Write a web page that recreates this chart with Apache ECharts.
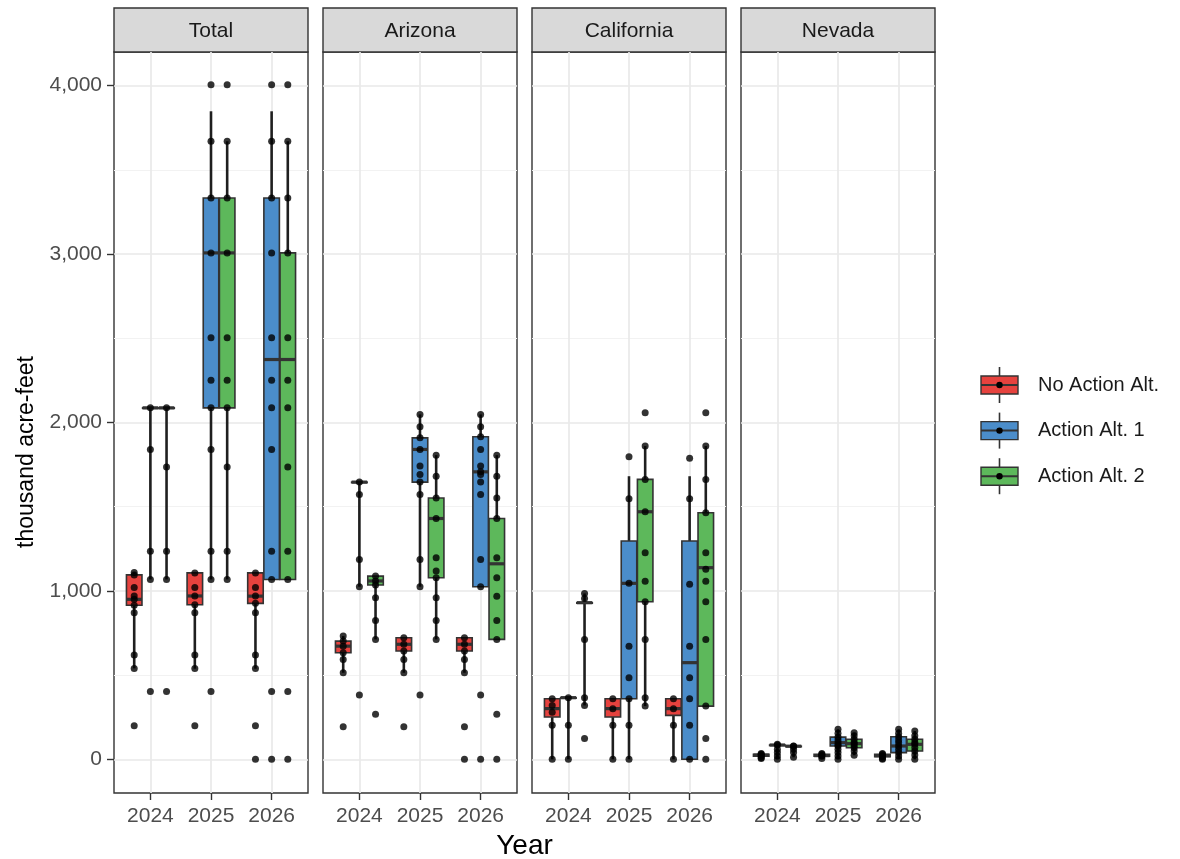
<!DOCTYPE html>
<html><head><meta charset="utf-8">
<script src="https://cdn.jsdelivr.net/npm/echarts@6/dist/echarts.min.js"></script>
<style>html,body{margin:0;padding:0;background:#fff}#chart{width:1180px;height:859px}</style>
</head><body><div id="chart"></div>
<script>
// ---------------- data ----------------
const facets = ['Total', 'Arizona', 'California', 'Nevada'];
const years = ['2024', '2025', '2026'];
const alternatives = ['No Action Alt.', 'Action Alt. 1', 'Action Alt. 2'];
const yTicks = [0, 1000, 2000, 3000, 4000];
const yMinorTicks = [500, 1500, 2500, 3500];

// box stats per year: [lower whisker, q1, median, q3, upper whisker]
const total_noAction_box = [[540, 915, 950, 1095, 1110], [538, 918, 970, 1107, 1107], [538, 926, 969, 1107, 1107]];
const total_alt1_box = [[1068, 2087, 2087, 2087, 2087], [1068, 2087, 3007, 3333, 3848], [1068, 1068, 2374, 3333, 3848]];
const total_alt2_box = [[1068, 2087, 2087, 2087, 2087], [1068, 2087, 3007, 3333, 3670], [1068, 1068, 2374, 3007, 3670]];
const total_noAction_pts = [[1110, 1095, 1020, 970, 950, 915, 870, 620, 540, 200], [1107, 1020, 970, 918, 870, 620, 540, 200], [1107, 1020, 970, 926, 870, 620, 540, 200, 0]];
const total_alt1_pts = [[2087, 1840, 1236, 1068, 402], [4006, 3670, 3333, 3007, 2503, 2251, 2087, 1840, 1236, 1068, 402], [4006, 3670, 3333, 3007, 2503, 2251, 2087, 1840, 1236, 1068, 402, 0]];
const total_alt2_pts = [[2087, 1736, 1236, 1068, 402], [4006, 3670, 3333, 3007, 2503, 2251, 2087, 1736, 1236, 1068], [4006, 3670, 3333, 3007, 2503, 2251, 2087, 1736, 1236, 1068, 402, 0]];

const az_noAction_box = [[514, 633, 672, 702, 732], [514, 643, 683, 722, 722], [514, 643, 683, 722, 722]];
const az_alt1_box = [[1025, 1646, 1646, 1646, 1646], [1025, 1646, 1840, 1909, 2048], [1025, 1025, 1707, 1915, 2048]];
const az_alt2_box = [[712, 1035, 1059, 1088, 1088], [712, 1078, 1430, 1552, 1806], [712, 712, 1161, 1430, 1806]];
const az_noAction_pts = [[732, 702, 672, 633, 593, 514, 194], [722, 683, 643, 593, 514, 194], [722, 683, 643, 593, 514, 194, 0]];
const az_alt1_pts = [[1646, 1573, 1187, 1025, 382], [2048, 1975, 1909, 1840, 1741, 1691, 1646, 1573, 1187, 1025, 382], [2048, 1975, 1915, 1840, 1741, 1707, 1691, 1646, 1573, 1187, 1025, 382, 0]];
const az_alt2_pts = [[1088, 1059, 1035, 960, 825, 712, 267], [1806, 1681, 1552, 1430, 1197, 1118, 1078, 960, 825, 712], [1806, 1681, 1552, 1430, 1197, 1078, 969, 825, 712, 267, 0]];

const ca_noAction_box = [[0, 251, 301, 360, 360], [0, 251, 301, 360, 360], [0, 261, 301, 360, 360]];
const ca_alt1_box = [[0, 366, 366, 366, 366], [0, 360, 1045, 1296, 1681], [0, 0, 574, 1296, 1681]];
const ca_alt2_box = [[320, 930, 930, 930, 985], [316, 936, 1470, 1662, 1860], [316, 316, 1138, 1464, 1860]];
const ca_noAction_pts = [[360, 320, 279, 202, 0], [360, 301, 202, 0], [360, 301, 202, 0]];
const ca_alt1_pts = [[366, 202, 0], [1796, 1547, 1045, 672, 485, 360, 202, 0], [1788, 1547, 1039, 672, 485, 360, 202, 0]];
const ca_alt2_pts = [[985, 955, 712, 366, 320, 123], [2058, 1860, 1662, 1470, 1227, 1058, 936, 712, 366, 316], [2058, 1860, 1662, 1464, 1227, 1128, 1058, 936, 712, 316, 123, 0]];

const nv_noAction_box = [[5, 18, 25, 30, 35], [5, 18, 22, 30, 35], [0, 15, 22, 30, 35]];
const nv_alt1_box = [[0, 85, 85, 85, 89], [0, 79, 99, 132, 178], [0, 40, 79, 134, 178]];
const nv_alt2_box = [[12, 78, 78, 78, 79], [24, 69, 93, 119, 158], [0, 49, 89, 119, 168]];
const nv_noAction_pts = [[35, 30, 25, 18, 10, 5], [35, 30, 22, 18, 5], [35, 30, 22, 15, 5, 0]];
const nv_alt1_pts = [[89, 85, 60, 40, 20, 0], [178, 155, 132, 115, 99, 85, 79, 60, 40, 20, 0], [178, 155, 134, 115, 99, 79, 60, 40, 20, 0]];
const nv_alt2_pts = [[79, 78, 60, 40, 12], [158, 140, 119, 100, 93, 80, 69, 50, 24], [168, 140, 119, 100, 89, 70, 49, 25, 0]];

// ---------------- styling ----------------
const altColors = ['#E6423E', '#4B8DCA', '#5DB85B'];
const FONT = 'Liberation Sans, Arial, sans-serif';
const DODGE = 0.2667;
const BOX_HALF = 0.128;
const PANEL_LEFT = [114, 323, 532, 741];
const PANEL_W = 194, PANEL_TOP = 52, PANEL_H = 741;
const STRIP_TOP = 8;

const facetBoxes = [
  [total_noAction_box, total_alt1_box, total_alt2_box],
  [az_noAction_box, az_alt1_box, az_alt2_box],
  [ca_noAction_box, ca_alt1_box, ca_alt2_box],
  [nv_noAction_box, nv_alt1_box, nv_alt2_box]
];
const facetPts = [
  [total_noAction_pts, total_alt1_pts, total_alt2_pts],
  [az_noAction_pts, az_alt1_pts, az_alt2_pts],
  [ca_noAction_pts, ca_alt1_pts, ca_alt2_pts],
  [nv_noAction_pts, nv_alt1_pts, nv_alt2_pts]
];

function fmt(v) { return String(v).replace(/\B(?=(\d{3})+(?!\d))/g, ','); }

function makeRender(color) {
  return function (params, api) {
    const x = api.value(0);
    const lo = api.value(1), q1 = api.value(2), md = api.value(3), q3 = api.value(4), hi = api.value(5);
    const tl = api.coord([x - BOX_HALF, q3]);
    const br = api.coord([x + BOX_HALF, q1]);
    const mL = api.coord([x - BOX_HALF, md]);
    const mR = api.coord([x + BOX_HALF, md]);
    const pLo = api.coord([x, lo]), pHi = api.coord([x, hi]);
    const pQ1 = api.coord([x, q1]), pQ3 = api.coord([x, q3]);
    const children = [];
    if (hi > q3) children.push({ type: 'line', shape: { x1: pHi[0], y1: pHi[1], x2: pQ3[0], y2: pQ3[1] }, style: { stroke: '#1f1f1f', lineWidth: 2.6 } });
    if (lo < q1) children.push({ type: 'line', shape: { x1: pLo[0], y1: pLo[1], x2: pQ1[0], y2: pQ1[1] }, style: { stroke: '#1f1f1f', lineWidth: 2.6 } });
    children.push({ type: 'rect', shape: { x: tl[0], y: tl[1], width: br[0] - tl[0], height: Math.max(br[1] - tl[1], 0.5) }, style: { fill: color, stroke: '#333', lineWidth: 1.6 } });
    children.push({ type: 'line', shape: { x1: mL[0], y1: mL[1], x2: mR[0], y2: mR[1] }, style: { stroke: '#333', lineWidth: 3.2 } });
    return { type: 'group', children: children };
  };
}

const grids = [], xAxes = [], yAxes = [], series = [], graphics = [];
facets.forEach((f, i) => {
  grids.push({ left: PANEL_LEFT[i], top: PANEL_TOP, width: PANEL_W, height: PANEL_H, show: true, borderColor: '#333', borderWidth: 1.4, backgroundColor: 'transparent' });
  xAxes.push({
    type: 'value', gridIndex: i, min: 0.4, max: 3.6,
    axisLine: { show: false, onZero: false },
    axisTick: { show: true, customValues: [1, 2, 3], length: 7, lineStyle: { color: '#333', width: 1.4 } },
    axisLabel: { customValues: [1, 2, 3], formatter: v => years[Math.round(v) - 1], fontSize: 21, color: '#4d4d4d', margin: 13, fontFamily: FONT },
    splitLine: { show: true, lineStyle: { color: '#e9e9e9', width: 1.7 } }
  });
  yAxes.push({
    type: 'value', gridIndex: i, min: -200, max: 4200,
    axisLine: { show: false, onZero: false },
    axisTick: { show: i === 0, customValues: yTicks, length: 7, lineStyle: { color: '#333', width: 1.4 } },
    axisLabel: { show: i === 0, customValues: yTicks, formatter: fmt, fontSize: 21, color: '#4d4d4d', margin: 12, fontFamily: FONT },
    splitLine: { show: true, lineStyle: { color: '#e9e9e9', width: 1.7 } }
  });
  yAxes.push({
    type: 'value', gridIndex: i, min: -200, max: 4200,
    axisLine: { show: false, onZero: false },
    axisTick: { show: false, customValues: yMinorTicks },
    axisLabel: { show: false, customValues: yMinorTicks },
    splitLine: { show: true, lineStyle: { color: '#f2f2f2', width: 1.2 } }
  });
  alternatives.forEach((alt, a) => {
    series.push({
      type: 'custom', name: alt, xAxisIndex: i, yAxisIndex: 2 * i, z: 3,
      renderItem: makeRender(altColors[a]),
      encode: { x: 0, y: [1, 2, 3, 4, 5] },
      data: years.map((yr, k) => [k + 1 + (a - 1) * DODGE].concat(facetBoxes[i][a][k]))
    });
  });
  const pts = [];
  alternatives.forEach((alt, a) => {
    years.forEach((yr, k) => {
      facetPts[i][a][k].forEach(v => pts.push([k + 1 + (a - 1) * DODGE, v]));
    });
  });
  series.push({ type: 'scatter', xAxisIndex: i, yAxisIndex: 2 * i, z: 5, symbolSize: 7, itemStyle: { color: '#000' }, data: pts });

  // strip
  graphics.push({ type: 'rect', shape: { x: PANEL_LEFT[i], y: STRIP_TOP, width: PANEL_W, height: PANEL_TOP - STRIP_TOP }, style: { fill: '#d9d9d9', stroke: '#333', lineWidth: 1.4 } });
  graphics.push({ type: 'text', x: PANEL_LEFT[i] + PANEL_W / 2, y: (STRIP_TOP + PANEL_TOP) / 2 + 1, style: { text: f, fontSize: 21, fill: '#1a1a1a', fontFamily: FONT, align: 'center', verticalAlign: 'middle' } });
});

// axis titles
graphics.push({ type: 'text', x: (PANEL_LEFT[0] + PANEL_LEFT[3] + PANEL_W) / 2, y: 846, style: { text: 'Year', fontSize: 28, fill: '#000', fontFamily: FONT, align: 'center', verticalAlign: 'middle' } });
graphics.push({ type: 'text', x: 27, y: 452, rotation: Math.PI / 2, style: { text: 'thousand acre-feet', fontSize: 23, fill: '#000', fontFamily: FONT, align: 'center', verticalAlign: 'middle' } });

// legend
alternatives.forEach((alt, a) => {
  const cy = 385 + a * 45.6;
  const kx = 981, kw = 37, kh = 18, cx = kx + kw / 2;
  graphics.push({ type: 'line', shape: { x1: cx, y1: cy - 18, x2: cx, y2: cy + 18 }, style: { stroke: '#333', lineWidth: 1.6 } });
  graphics.push({ type: 'rect', shape: { x: kx, y: cy - kh / 2, width: kw, height: kh }, style: { fill: altColors[a], stroke: '#333', lineWidth: 1.4 } });
  graphics.push({ type: 'line', shape: { x1: kx, y1: cy, x2: kx + kw, y2: cy }, style: { stroke: '#333', lineWidth: 2 } });
  graphics.push({ type: 'circle', shape: { cx: cx, cy: cy, r: 3.2 }, style: { fill: '#000' } });
  graphics.push({ type: 'text', x: 1038, y: cy, style: { text: alt, fontSize: 20, fill: '#1a1a1a', fontFamily: FONT, align: 'left', verticalAlign: 'middle' } });
});

const chart = echarts.init(document.getElementById('chart'), null, { renderer: 'canvas' });
chart.setOption({
  animation: false,
  backgroundColor: '#fff',
  grid: grids, xAxis: xAxes, yAxis: yAxes, series: series, graphic: graphics
});
</script></body></html>
